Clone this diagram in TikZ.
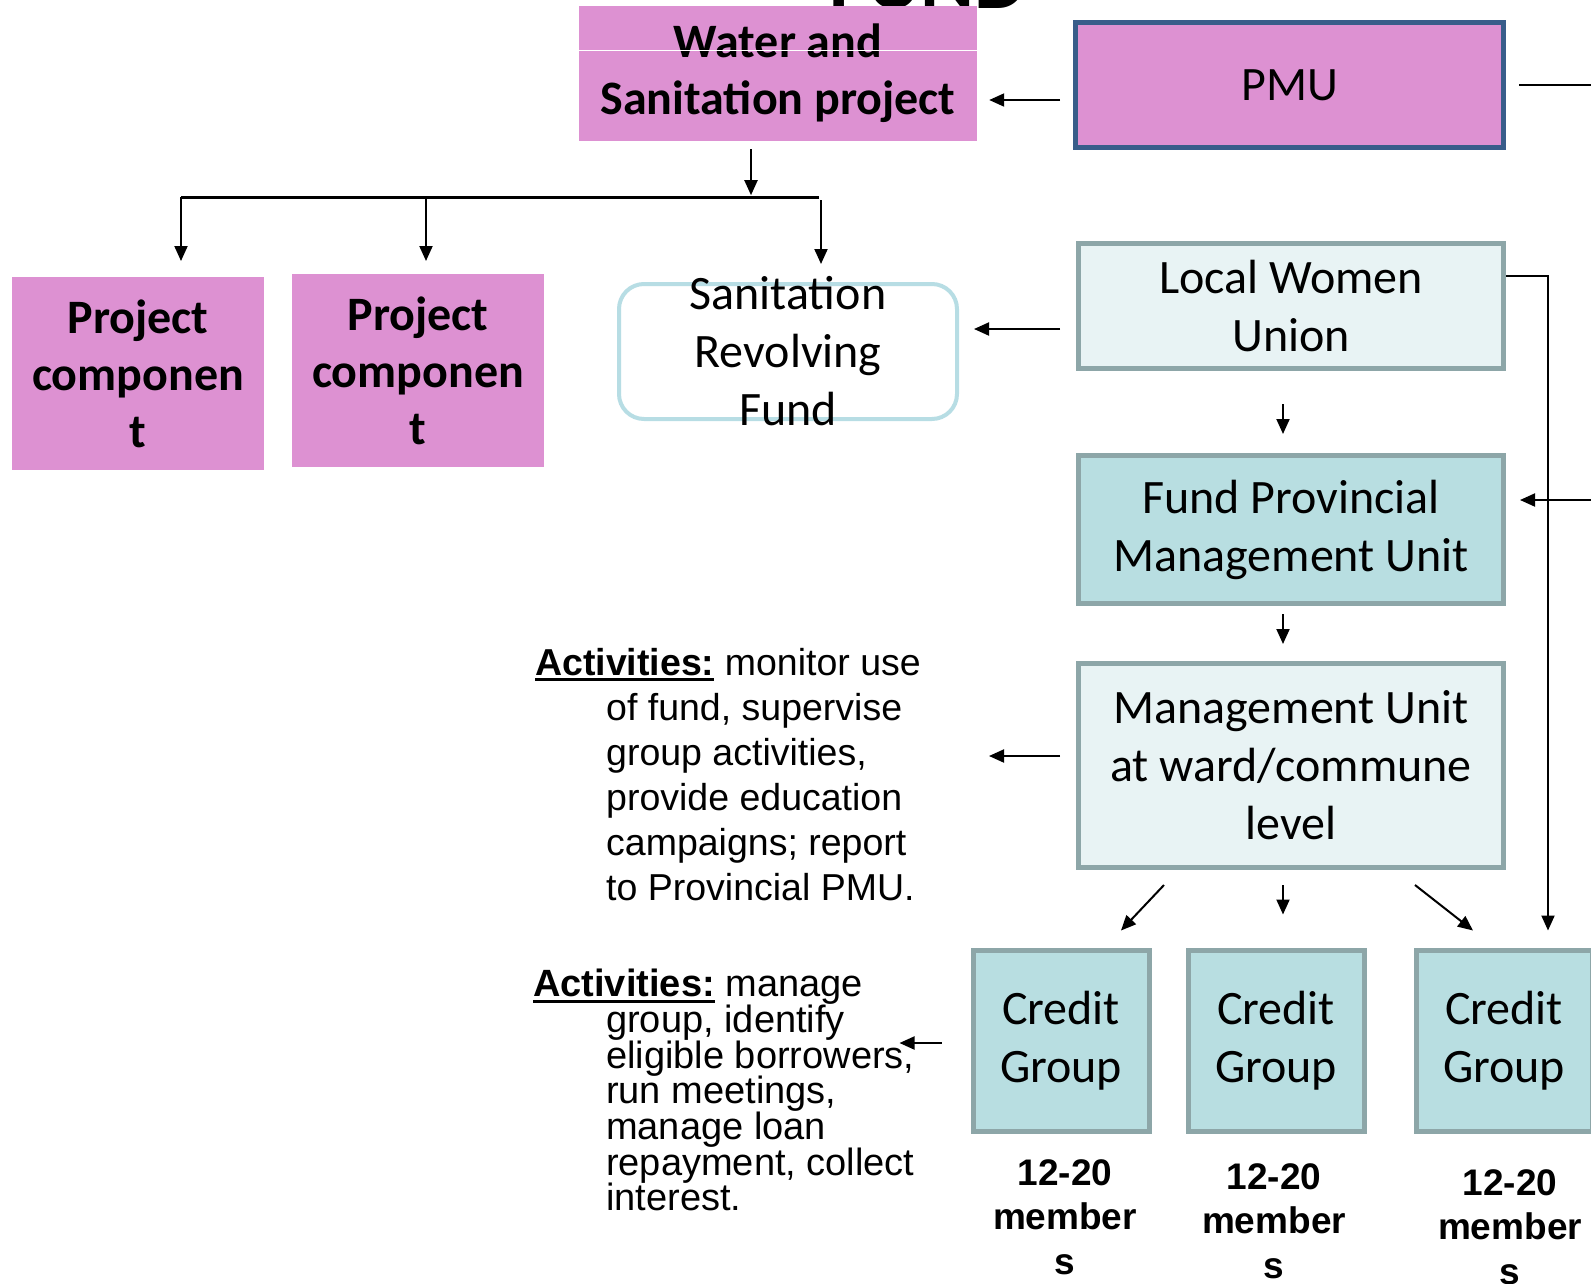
\documentclass[tikz,border=0pt]{standalone}
\usepackage{fontspec}
\setmainfont{Carlito}
\newfontfamily\arialfont{Liberation Sans}
\usetikzlibrary{arrows.meta,calc}
\definecolor{boxPink}{RGB}{221,145,210}
\definecolor{pmuBorder}{RGB}{56,93,138}
\definecolor{paleTeal}{RGB}{232,243,244}
\definecolor{midTeal}{RGB}{184,222,225}
\definecolor{tealBorder}{RGB}{141,166,168}
\definecolor{fundBorder}{RGB}{183,221,228}
\newsavebox\actbox
\newcommand\actlabel[1]{\sbox\actbox{\textbf{#1}}\rlap{\rule[-6pt]{\wd\actbox}{3pt}}\usebox\actbox}
\newcommand\ind{\hspace*{71pt}}
\newcommand\indb{\hspace*{73pt}}

\begin{document}
\lineskiplimit=-100pt
\begin{tikzpicture}[
  x=1pt, y=-1pt,
  every node/.style={inner sep=0pt, align=center},
  boxsize/.style 2 args={minimum width=#1, minimum height=#2},
  boxtext/.style={font=\fontsize{48}{58}\selectfont},
  boldtext/.style={font=\fontsize{48}{57}\selectfont\bfseries},
  pinkbox/.style={boldtext, fill=boxPink},
  pmubox/.style={boxtext, fill=boxPink, draw=pmuBorder, line width=5pt},
  palebox/.style={boxtext, fill=paleTeal, draw=tealBorder, line width=5pt},
  tealbox/.style={boxtext, fill=midTeal, draw=tealBorder, line width=5pt},
  fundbox/.style={draw=fundBorder, line width=4pt, rounded corners=25pt, fill=white},
  actnote/.style={font=\arialfont\fontsize{37.5}{45}\selectfont, align=left, anchor=north west},
  members/.style={font=\arialfont\fontsize{37}{44.5}\selectfont\bfseries, anchor=north},
  arr/.style={line width=2pt, -{Triangle[length=15pt,width=13pt]}},
  link/.style={line width=2pt}
]
\useasboundingbox (0,0) rectangle (1591,1283);

\node (fund) [font=\fontsize{82}{90}\selectfont\bfseries, anchor=base] at (928,8) {FUND};
\node (water) [pinkbox, boxsize={398}{135}] at (778,73.5) {Water and\\Sanitation project};
\draw[white, line width=1pt] ($(water.west)+(0,-23.5)$) -- ($(water.east)+(0,-23.5)$);
\node (pmu) [pmubox, boxsize={428}{125}] at (1289.5,85) {PMU};
\node (pc1) [pinkbox, boxsize={252}{193}] at (138,373.5) {Project\\componen\\t};
\node (pc2) [pinkbox, boxsize={252}{193}] at (418,370.5) {Project\\componen\\t};
\node (srf) [fundbox, boxsize={338}{135},
  label={[boxtext]center:Sanitation\\Revolving\\Fund}] at (788,351.5) {};
\node (lwu) [palebox, boxsize={425}{125}] at (1291,306) {Local Women\\Union};
\node (fpmu) [tealbox, boxsize={425}{148}] at (1291,529.5) {Fund Provincial\\Management Unit};
\node (mu) [palebox, boxsize={425}{204}] at (1291,765.5) {Management Unit\\at ward/commune\\level};
\foreach \i/\x in {1/1061,2/1276,3/1504}
  \node (cg\i) [tealbox, boxsize={176}{181}] at (\x,1040.5) {Credit\\Group};
\foreach \i/\x/\y in {1/1065/1159,2/1274/1163,3/1510/1169}
  \node (mem\i) [members] at (\x,\y) {12-20\\member\\s};

\node (act1) [actnote] at (535,648) {\actlabel{Activities:} monitor use\\
  \ind of fund, supervise\\ \ind group activities,\\ \ind provide education\\
  \ind campaigns; report\\ \ind to Provincial PMU.};
\node (act2) [actnote, font=\arialfont\fontsize{38}{35.7}\selectfont] at (533,969)
  {\actlabel{Activities:} manage\\ \indb group, identify\\
  \indb eligible borrowers,\\ \indb run meetings,\\
  \indb manage loan\\ \indb repayment, collect\\ \indb interest.};

\coordinate (barL) at (181,197);
\coordinate (barR) at (819,197);
\coordinate (edgeIn) at (1591,500);
\coordinate (edgeOut) at (1591,85);

\draw[arr] ($(pmu.west)+(-13,15)$) -- ($(water.east)+(12,26.5)$);
\draw[link] ($(pmu.east)+(13,0)$) -- (edgeOut);
\draw[arr] ($(water.south)+(-27,8)$) -- ($(water.south)+(-27,54)$);
\draw[link, line width=3pt] (barL) -- (barR);
\draw[arr] (barL) -- ++(0,64);
\draw[arr] (barL) ++(245,0) -- ++(0,64);
\draw[arr] (barR) ++(2,3) -- ++(0,64);
\draw[arr] ($(lwu.west)+(-16,23)$) -- ($(srf.east)+(15,-22.5)$);
\draw[arr] ($(lwu.south)+(-8,33)$) -- ($(fpmu.north)+(-8,-19)$);
\draw[arr] ($(fpmu.south)+(-8,8)$) -- ($(mu.north)+(-8,-17)$);
\draw[arr] ($(lwu.east)+(0,-30)$) -| ($(cg3.north)+(44,-17)$);
\draw[arr] (edgeIn) -- ($(fpmu.east)+(14,-29.5)$);
\draw[arr] ($(mu.west)+(-16,-9.5)$) -- ++(-71,0);
\draw[arr] ($(cg1.west)+(-29,2.5)$) -- ++(-42,0);
\draw[arr] ($(mu.south)+(-127,15)$) -- ($(cg1.north)+(60,-17)$);
\draw[arr] ($(mu.south)+(-8,15)$) -- ($(cg2.north)+(7,-33)$);
\draw[arr] ($(mu.south)+(124,15)$) -- ($(cg3.north)+(-31,-17)$);
\end{tikzpicture}
\end{document}
